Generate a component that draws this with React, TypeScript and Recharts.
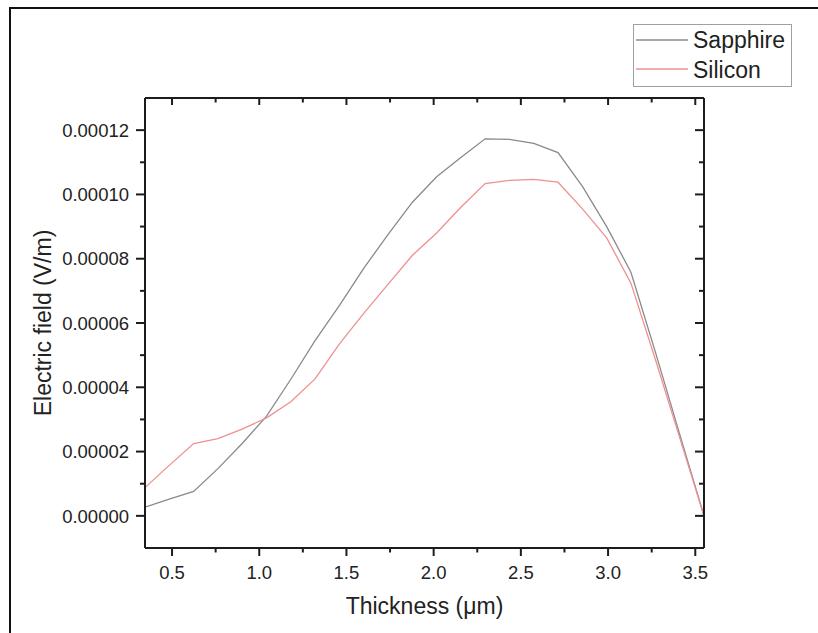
import React from 'react';
import { LineChart, Line, XAxis, YAxis, Legend, Label } from 'recharts';

const thickness = [0.345, 0.484, 0.624, 0.763, 0.902, 1.042, 1.181, 1.32, 1.46, 1.599, 1.738, 1.877, 2.017, 2.156, 2.295, 2.435, 2.574, 2.713, 2.853, 2.992, 3.131, 3.271, 3.41, 3.55];
const sapphire = [2.7e-6, 5.2e-6, 7.6e-6, 1.47e-5, 2.25e-5, 3.1e-5, 4.25e-5, 5.45e-5, 6.55e-5, 7.7e-5, 8.75e-5, 9.75e-5, 1.055e-4, 1.115e-4, 1.173e-4, 1.171e-4, 1.159e-4, 1.13e-4, 1.025e-4, 9.0e-5, 7.58e-5, 5.1e-5, 2.55e-5, 0];
const silicon = [8.8e-6, 1.57e-5, 2.25e-5, 2.4e-5, 2.7e-5, 3.05e-5, 3.55e-5, 4.26e-5, 5.35e-5, 6.3e-5, 7.2e-5, 8.1e-5, 8.8e-5, 9.6e-5, 1.034e-4, 1.044e-4, 1.047e-4, 1.038e-4, 9.55e-5, 8.65e-5, 7.24e-5, 4.87e-5, 2.44e-5, 0];

const xTicks = [0.5, 0.75, 1.0, 1.25, 1.5, 1.75, 2.0, 2.25, 2.5, 2.75, 3.0, 3.25, 3.5];
const yTicks = [0, 0.00001, 0.00002, 0.00003, 0.00004, 0.00005, 0.00006, 0.00007, 0.00008, 0.00009, 0.0001, 0.00011, 0.00012];
const xDomain = [0.345, 3.55];
const yDomain = [-0.00001, 0.00013];

const seriesNames = ['Sapphire', 'Silicon'];
const seriesColors = ['#8a8a8a', '#ee9090'];

const data = thickness.map((t, i) => ({ t, sapphire: sapphire[i], silicon: silicon[i] }));

const FONT = '"Liberation Sans", Arial, Helvetica, sans-serif';
const AXIS = '#1c1c1c';
const TEXT = '#222';

const isMajorX = (v: number) => Math.abs(v * 2 - Math.round(v * 2)) < 1e-6;
const isMajorY = (v: number) => Math.round(v * 1e5) % 2 === 0;

const BottomTick = (props: any) => {
  const { x, y, payload } = props;
  const v = payload.value as number;
  const major = isMajorX(v);
  return (
    <g>
      <line x1={x} x2={x} y1={y} y2={y + (major ? 8 : 4.5)} stroke={AXIS} strokeWidth={2} />
      {major && (
        <text x={x} y={y + 31} textAnchor="middle" fontSize={18.5} fill={TEXT} fontFamily={FONT}>
          {v.toFixed(1)}
        </text>
      )}
    </g>
  );
};

const TopTick = (props: any) => {
  const { x, y, payload } = props;
  const major = isMajorX(payload.value);
  return <line x1={x} x2={x} y1={y} y2={y + (major ? 7 : 4.5)} stroke={AXIS} strokeWidth={2} />;
};

const LeftTick = (props: any) => {
  const { x, y, payload } = props;
  const v = payload.value as number;
  const major = isMajorY(v);
  return (
    <g>
      <line x1={x - (major ? 9 : 5)} x2={x} y1={y} y2={y} stroke={AXIS} strokeWidth={2} />
      {major && (
        <text x={x - 16} y={y + 6.7} textAnchor="end" fontSize={18.5} fill={TEXT} fontFamily={FONT}>
          {v.toFixed(5)}
        </text>
      )}
    </g>
  );
};

const RightTick = (props: any) => {
  const { x, y, payload } = props;
  const major = isMajorY(payload.value);
  return <line x1={x - (major ? 9 : 5)} x2={x} y1={y} y2={y} stroke={AXIS} strokeWidth={2} />;
};

const LegendBox = () => (
  <svg width={159} height={63} style={{ display: 'block' }}>
    <rect x={0.5} y={0.5} width={158} height={62} fill="#fff" stroke="#a0a0a0" strokeWidth={1} />
    {seriesNames.map((name, i) => (
      <g key={name}>
        <line x1={3} x2={55} y1={16 + i * 29} y2={16 + i * 29} stroke={seriesColors[i]} strokeWidth={1.3} />
        <text x={60} y={24 + i * 29.5} fontSize={23} fill={TEXT} fontFamily={FONT}>
          {name}
        </text>
      </g>
    ))}
  </svg>
);

export default function App() {
  return (
    <div style={{ position: 'relative', width: 818, height: 633, overflow: 'hidden', background: '#fff' }}>
      <style>{'body{margin:0;}'}</style>
      <div
        style={{
          position: 'absolute',
          left: 9,
          top: 7,
          width: 830,
          height: 650,
          borderTop: '2px solid #111',
          borderLeft: '2px solid #111',
          pointerEvents: 'none',
        }}
      />
      <LineChart
        width={818}
        height={633}
        data={data}
        margin={{ top: 68, right: 54, bottom: 55, left: 85 }}
        style={{ fontFamily: FONT }}
      >
        <XAxis
          dataKey="t"
          type="number"
          domain={xDomain}
          allowDataOverflow
          ticks={xTicks}
          interval={0}
          tickSize={0}
          tickMargin={0}
          tick={BottomTick}
          height={30}
          axisLine={{ stroke: AXIS, strokeWidth: 2 }}
        >
          <Label value="Thickness (μm)" position="bottom" offset={20} fontSize={23} fill={TEXT} fontFamily={FONT} />
        </XAxis>
        <XAxis
          xAxisId="top"
          orientation="top"
          dataKey="t"
          type="number"
          domain={xDomain}
          allowDataOverflow
          ticks={xTicks}
          interval={0}
          tickSize={0}
          tickMargin={0}
          tick={TopTick}
          height={30}
          axisLine={{ stroke: AXIS, strokeWidth: 2 }}
        />
        <YAxis
          type="number"
          domain={yDomain}
          allowDataOverflow
          ticks={yTicks}
          interval={0}
          tickSize={0}
          tickMargin={0}
          tick={LeftTick}
          width={60}
          axisLine={{ stroke: AXIS, strokeWidth: 2 }}
        >
          <Label
            value="Electric field (V/m)"
            position="left"
            offset={42}
            angle={-90}
            fontSize={23}
            fill={TEXT}
            fontFamily={FONT}
            style={{ textAnchor: 'middle' }}
          />
        </YAxis>
        <YAxis
          yAxisId="right"
          orientation="right"
          type="number"
          domain={yDomain}
          allowDataOverflow
          ticks={yTicks}
          interval={0}
          tickSize={0}
          tickMargin={0}
          tick={RightTick}
          width={60}
          axisLine={{ stroke: AXIS, strokeWidth: 2 }}
        />
        <Legend
          layout="vertical"
          align="center"
          verticalAlign="middle"
          wrapperStyle={{ left: 633, top: 24, width: 159, height: 63, right: 'auto', bottom: 'auto' }}
          content={LegendBox}
        />
        <Line
          type="linear"
          dataKey="sapphire"
          name="Sapphire"
          stroke={seriesColors[0]}
          strokeWidth={1.3}
          dot={false}
          activeDot={false}
          isAnimationActive={false}
        />
        <Line
          type="linear"
          dataKey="silicon"
          name="Silicon"
          stroke={seriesColors[1]}
          strokeWidth={1.3}
          dot={false}
          activeDot={false}
          isAnimationActive={false}
        />
      </LineChart>
    </div>
  );
}
